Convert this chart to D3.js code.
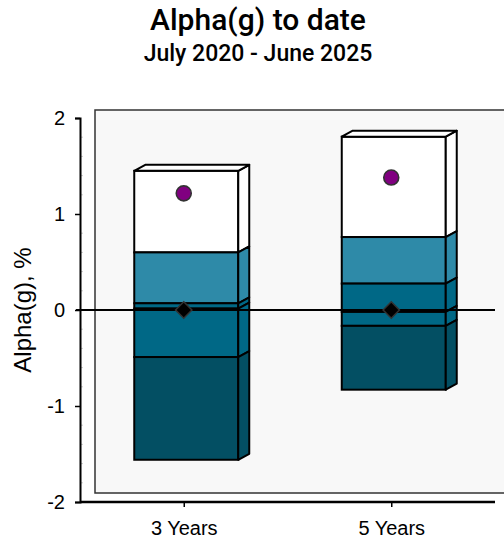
<!DOCTYPE html>
<html>
<head>
<meta charset="utf-8">
<script src="https://cdn.jsdelivr.net/npm/d3@7"></script>
<style>
  html, body { margin: 0; padding: 0; background: #ffffff; }
  svg { display: block; }
</style>
</head>
<body>
<svg id="chart" width="504" height="540"></svg>
<script>
// ---- Data ----
const categories = ["3 Years", "5 Years"];
// Stack boundaries (top to bottom), %
const boundaries3Y = [1.45, 0.60, 0.07, 0.015, -0.49, -1.56];
const boundaries5Y = [1.805, 0.76, 0.275, -0.02, -0.165, -0.83];
const segmentColors = ["#ffffff", "#2e8aa8", "#006886", "#006886", "#034f63"];
const fundValues = [1.215, 1.38];      // purple circles
const benchmarkValues = [0, 0];        // black diamonds
const yTicks = [-2, -1, 0, 1, 2];
const yTickLabels = ["-2", "-1", "0", "1", "2"];
const titleText = "Alpha(g) to date";
const subtitleText = "July 2020 - June 2025";
const yAxisTitle = "Alpha(g), %";

const stacks = [boundaries3Y, boundaries5Y];

(function () {
// ---- Layout ----
const svg = d3.select("#chart");
const pLeft = 80, pRight = 495, pTop = 118, pBottom = 502;
const depthX = 11, depthY = 6;         // bar depth
const wallDX = 15, wallDY = 9;         // back wall offset

const x = d3.scalePoint().domain(categories).range([pLeft, pRight]).padding(0.5);
const y = d3.scaleLinear().domain([-2, 2]).range([pBottom, pTop]);

// Titles
svg.append("text").attr("x", 258).attr("y", 30).attr("text-anchor", "middle")
  .style("font-family", "Roboto, 'Liberation Sans', sans-serif").style("font-weight", 500)
  .style("font-size", "30px").attr("fill", "#000").text(titleText);
svg.append("text").attr("x", 258).attr("y", 61).attr("text-anchor", "middle")
  .style("font-family", "Roboto, 'Liberation Sans', sans-serif").style("font-weight", 500)
  .style("font-size", "23px").attr("fill", "#000").text(subtitleText);

// Back wall
svg.append("rect")
  .attr("x", pLeft + wallDX).attr("y", pTop - wallDY + 1)
  .attr("width", pRight - pLeft + 20).attr("height", (pBottom - wallDY) - (pTop - wallDY + 1))
  .attr("fill", "#f8f8f8").attr("stroke", "#333").attr("stroke-width", 1.5);

// Minor ticks on y axis (faint)
const minor = d3.range(-2, 2.001, 0.2).filter(v => Math.abs(v - Math.round(v)) > 1e-6);
svg.append("g").selectAll("line").data(minor).join("line")
  .attr("x1", pLeft).attr("x2", pLeft + 3)
  .attr("y1", d => y(d)).attr("y2", d => y(d))
  .attr("stroke", "#aaa").attr("stroke-width", 0.6);

// Bars (3D)
const barW = 104, barOff = 2.5;
const barsG = svg.append("g");
stacks.forEach((b, i) => {
  const cx = x(categories[i]) + barOff;
  const x0 = cx - barW / 2, x1 = cx + barW / 2;
  const g = barsG.append("g");
  for (let s = 0; s < b.length - 1; s++) {
    const yt = y(b[s]), yb = y(b[s + 1]);
    const col = segmentColors[s];
    g.append("rect").attr("x", x0).attr("y", yt).attr("width", x1 - x0).attr("height", yb - yt)
      .attr("fill", col).attr("stroke", "#000").attr("stroke-width", 2);
    g.append("path")
      .attr("d", `M${x1},${yt}L${x1 + depthX},${yt - depthY}L${x1 + depthX},${yb - depthY}L${x1},${yb}Z`)
      .attr("fill", col).attr("stroke", "#000").attr("stroke-width", 2).attr("stroke-linejoin", "round");
  }
  const yTop = y(b[0]);
  g.append("path")
    .attr("d", `M${x0},${yTop}L${x0 + depthX},${yTop - depthY}L${x1 + depthX},${yTop - depthY}L${x1},${yTop}Z`)
    .attr("fill", "#ffffff").attr("stroke", "#000").attr("stroke-width", 2).attr("stroke-linejoin", "round");
});

// Zero line
svg.append("line").attr("x1", pLeft - 4).attr("x2", pRight).attr("y1", y(0)).attr("y2", y(0))
  .attr("stroke", "#000").attr("stroke-width", 2);

// Y axis
const yAxis = d3.axisLeft(y).tickValues(yTicks).tickSize(5).tickPadding(10)
  .tickFormat((d, i) => yTickLabels[i]);
const yg = svg.append("g").attr("transform", `translate(${pLeft},0)`).call(yAxis);
yg.select(".domain").attr("stroke", "#000").attr("stroke-width", 2);
yg.selectAll(".tick line").attr("stroke", "#000").attr("stroke-width", 1.5);
yg.selectAll(".tick text").style("font-family", "'Liberation Sans', Arial, sans-serif")
  .style("font-size", "20px").attr("fill", "#000");

// X axis
const xAxis = d3.axisBottom(x).tickSize(5).tickPadding(14);
const xg = svg.append("g").attr("transform", `translate(0,${pBottom})`).call(xAxis);
xg.select(".domain").attr("stroke", "#000").attr("stroke-width", 2.5).attr("d", `M${pLeft},0H${pRight}`);
xg.selectAll(".tick line").attr("stroke", "#000").attr("stroke-width", 1.5);
xg.selectAll(".tick text").style("font-family", "'Liberation Sans', Arial, sans-serif")
  .style("font-size", "20px").attr("fill", "#000");

// Y axis title
svg.append("text").attr("transform", `translate(31,${y(0)}) rotate(-90)`)
  .attr("text-anchor", "middle")
  .style("font-family", "'Liberation Sans', Arial, sans-serif").style("font-size", "24px")
  .attr("fill", "#000").text(yAxisTitle);

// Benchmark diamonds
svg.append("g").selectAll("path").data(benchmarkValues).join("path")
  .attr("transform", (d, i) => `translate(${x(categories[i])},${y(d)})`)
  .attr("d", d3.symbol(d3.symbolDiamond2, 170))
  .attr("fill", "#000").attr("stroke", "#333").attr("stroke-width", 1.5);

// Fund circles
svg.append("g").selectAll("circle").data(fundValues).join("circle")
  .attr("cx", (d, i) => x(categories[i])).attr("cy", d => y(d)).attr("r", 7.5)
  .attr("fill", "#800080").attr("stroke", "#333").attr("stroke-width", 1.6);
})();
</script>
</body>
</html>
